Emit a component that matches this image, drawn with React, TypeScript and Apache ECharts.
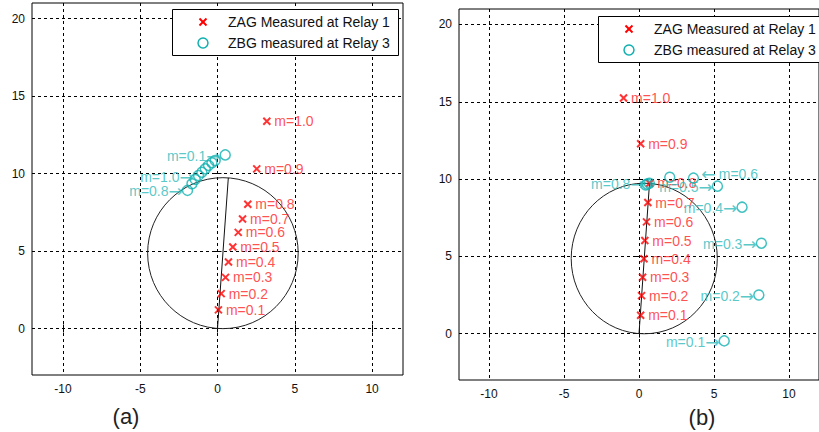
import React, { useEffect, useRef } from "react";
import * as echarts from "echarts";

// ---- data ----
const mLabels = ["m=0.1", "m=0.2", "m=0.3", "m=0.4", "m=0.5", "m=0.6", "m=0.7", "m=0.8", "m=0.9", "m=1.0"];
const seriesNames = ["ZAG Measured at Relay 1", "ZBG measured at Relay 3"];
const panelTitles = ["(a)", "(b)"];
const xTicks = [-10, -5, 0, 5, 10];
const yTicks = [0, 5, 10, 15, 20];

// panel (a)
const zagA_R = [0.06, 0.24, 0.52, 0.71, 0.99, 1.34, 1.62, 1.96, 2.54, 3.19];
const zagA_X = [1.2, 2.25, 3.3, 4.29, 5.26, 6.2, 7.06, 8.02, 10.3, 13.37];
const zbgA_R = [0.5, -0.15, -0.36, -0.58, -0.79, -1.01, -1.65, -1.94, -1.44, -1.23];
const zbgA_X = [11.2, 10.84, 10.69, 10.52, 10.3, 10.08, 9.34, 8.91, 9.61, 9.87];
const zbgA_labelled = [0, 7, 9];

// panel (b)
const zagB_R = [0.11, 0.17, 0.24, 0.33, 0.39, 0.5, 0.59, 0.71, 0.11, -1.03];
const zagB_X = [1.19, 2.46, 3.65, 4.84, 6.02, 7.23, 8.48, 9.73, 12.28, 15.24];
const zbgB_R = [5.68, 7.99, 8.16, 6.87, 5.23, 3.63, 2.05, 0.69, 0.55, 0.45];
const zbgB_X = [-0.47, 2.5, 5.85, 8.18, 9.54, 10.06, 10.12, 9.73, 9.68, 9.62];
const zbgB_leftLabelled = [0, 1, 2, 3, 4, 7];
const zbgB_rightLabelled = [5];

// mho characteristic: centre R, centre X, radius; reach line
const mhoCircle = [[0.35, 4.86, 4.87]];
const reachLine = [[0, 0], [0.7, 9.72]];

const RED = "#ff0000";
const RED_TXT = "#ff2424";
const CYAN = "#12b0b0";
const CYAN_TXT = "#2fbaba";
const FONT = "Liberation Sans, Arial, sans-serif";

const crossPath = "path://M0,0L10,10M10,0L0,10";

function axesFor(gridIndex: number) {
  const common = { min: -12, max: 12, type: "value" as const, gridIndex };
  const commonY = { min: -3, max: 21, type: "value" as const, gridIndex };
  const tick = (vals: number[]) => ({
    show: true,
    inside: true,
    length: 4,
    customValues: vals,
    lineStyle: { color: "#000", width: 1 },
  });
  const xs = [
    {
      ...common,
      position: "bottom",
      axisLine: { show: false },
      axisTick: tick(xTicks),
      axisLabel: { customValues: xTicks, color: "#111", fontSize: 12, fontFamily: FONT, margin: 8 },
      splitLine: { show: true, lineStyle: { color: "#000", type: [3, 3], width: 1 } },
    },
    {
      ...common,
      position: "top",
      axisLine: { show: false },
      axisTick: tick(xTicks),
      axisLabel: { show: false },
      splitLine: { show: false },
    },
  ];
  const ys = [
    {
      ...commonY,
      position: "left",
      axisLine: { show: false },
      axisTick: tick(yTicks),
      axisLabel: { customValues: yTicks, color: "#111", fontSize: 12, fontFamily: FONT, margin: 7 },
      splitLine: { show: true, lineStyle: { color: "#000", type: [3, 3], width: 1 } },
    },
    {
      ...commonY,
      position: "right",
      axisLine: { show: false },
      axisTick: tick(yTicks),
      axisLabel: { show: false },
      splitLine: { show: false },
    },
  ];
  return { xs, ys };
}

function circleSeries(axisIdx: number) {
  return {
    type: "custom",
    xAxisIndex: axisIdx,
    yAxisIndex: axisIdx,
    silent: true,
    data: mhoCircle,
    z: 2,
    renderItem: (params: any, api: any) => {
      const c = api.coord([api.value(0), api.value(1)]);
      const s = api.size([api.value(2), api.value(2)]);
      return {
        type: "ellipse",
        shape: { cx: c[0], cy: c[1], rx: s[0], ry: s[1] },
        style: { fill: "none", stroke: "#222", lineWidth: 1 },
      };
    },
  };
}

function lineSeries(axisIdx: number) {
  return {
    type: "line",
    xAxisIndex: axisIdx,
    yAxisIndex: axisIdx,
    data: reachLine,
    symbol: "none",
    silent: true,
    z: 2,
    lineStyle: { color: "#111", width: 1 },
  };
}

function zagSeries(axisIdx: number, rs: number[], xs: number[]) {
  return {
    name: seriesNames[0],
    type: "scatter",
    xAxisIndex: axisIdx,
    yAxisIndex: axisIdx,
    symbol: crossPath,
    symbolSize: 7,
    z: 4,
    itemStyle: { color: RED, borderColor: RED, borderWidth: 2 },
    label: {
      show: true,
      position: "right",
      distance: 3,
      formatter: "{b}",
      color: RED_TXT,
      fontSize: 14,
      fontFamily: FONT,
    },
    data: rs.map((r, i) => ({ name: mLabels[i], value: [r, xs[i]] })),
  };
}

const cyanRich = {
  t: { color: CYAN_TXT, fontSize: 14, fontFamily: FONT },
  a: { color: CYAN_TXT, fontSize: 17, fontFamily: "DejaVu Sans, sans-serif" },
};

function zbgSeries(axisIdx: number, rs: number[], xs: number[], leftIdx: number[], rightIdx: number[]) {
  return {
    name: seriesNames[1],
    type: "scatter",
    xAxisIndex: axisIdx,
    yAxisIndex: axisIdx,
    symbol: "circle",
    symbolSize: 10,
    z: 5,
    itemStyle: { color: "rgba(0,0,0,0)", borderColor: CYAN, borderWidth: 1.5 },
    data: rs.map((r, i) => {
      const item: any = { name: mLabels[i], value: [r, xs[i]] };
      if (leftIdx.includes(i)) {
        item.label = {
          show: true,
          position: "left",
          distance: -1,
          offset: [0, 1],
          formatter: "{t|" + mLabels[i] + "}{a|\u2192}",
          rich: cyanRich,
        };
      } else if (rightIdx.includes(i)) {
        item.label = {
          show: true,
          position: "right",
          distance: 2,
          offset: [0, -4],
          formatter: "{a|\u2190} {t|" + mLabels[i] + "}",
          rich: cyanRich,
        };
      } else {
        item.label = { show: false };
      }
      return item;
    }),
  };
}

function legendGraphic(x: number, y: number) {
  const w = 226;
  const h = 46;
  const mx = x + 31;
  const tx = x + 56;
  const r1 = y + 13;
  const r2 = y + 34;
  return [
    { type: "rect", z: 100, shape: { x: x + 0.5, y: y + 0.5, width: w, height: h }, style: { fill: "#fff", stroke: "#000", lineWidth: 1 } },
    { type: "line", z: 101, shape: { x1: mx - 3.5, y1: r1 - 3.5, x2: mx + 3.5, y2: r1 + 3.5 }, style: { stroke: RED, lineWidth: 2 } },
    { type: "line", z: 101, shape: { x1: mx + 3.5, y1: r1 - 3.5, x2: mx - 3.5, y2: r1 + 3.5 }, style: { stroke: RED, lineWidth: 2 } },
    { type: "circle", z: 101, shape: { cx: mx, cy: r2, r: 5 }, style: { fill: "none", stroke: CYAN, lineWidth: 1.5 } },
    { type: "text", z: 101, x: tx, y: r1, style: { text: seriesNames[0], fill: "#111", font: `14px ${FONT}`, verticalAlign: "middle", align: "left" } },
    { type: "text", z: 101, x: tx, y: r2, style: { text: seriesNames[1], fill: "#111", font: `14px ${FONT}`, verticalAlign: "middle", align: "left" } },
  ];
}

export default function App() {
  const ref = useRef<HTMLDivElement>(null);
  useEffect(() => {
    if (!ref.current) return;
    const chart = echarts.init(ref.current, undefined, { renderer: "svg" });
    const a = axesFor(0);
    const b = axesFor(1);
    const option: any = {
      animation: false,
      backgroundColor: "#fff",
      grid: [
        { left: 32, top: 3, width: 371, height: 372, show: true, borderColor: "#000", borderWidth: 1, backgroundColor: "#fff" },
        { left: 459, top: 9, width: 370, height: 371, show: true, borderColor: "#000", borderWidth: 1, backgroundColor: "#fff" },
      ],
      xAxis: [...a.xs, ...b.xs],
      yAxis: [...a.ys, ...b.ys],
      series: [
        circleSeries(0),
        lineSeries(0),
        zagSeries(0, zagA_R, zagA_X),
        zbgSeries(0, zbgA_R, zbgA_X, zbgA_labelled, []),
        circleSeries(2),
        lineSeries(2),
        zagSeries(2, zagB_R, zagB_X),
        zbgSeries(2, zbgB_R, zbgB_X, zbgB_leftLabelled, zbgB_rightLabelled),
      ],
      graphic: [
        ...legendGraphic(172, 9),
        ...legendGraphic(598, 16),
        { type: "text", x: 126, y: 416, style: { text: panelTitles[0], fill: "#222", font: `22px ${FONT}`, align: "center", verticalAlign: "middle" } },
        { type: "text", x: 702, y: 417, style: { text: panelTitles[1], fill: "#222", font: `22px ${FONT}`, align: "center", verticalAlign: "middle" } },
      ],
    };
    chart.setOption(option);
    return () => chart.dispose();
  }, []);
  return (
    <div
      ref={ref}
      style={{ position: "fixed", left: 0, top: 0, width: 819, height: 432, background: "#fff" }}
    />
  );
}
